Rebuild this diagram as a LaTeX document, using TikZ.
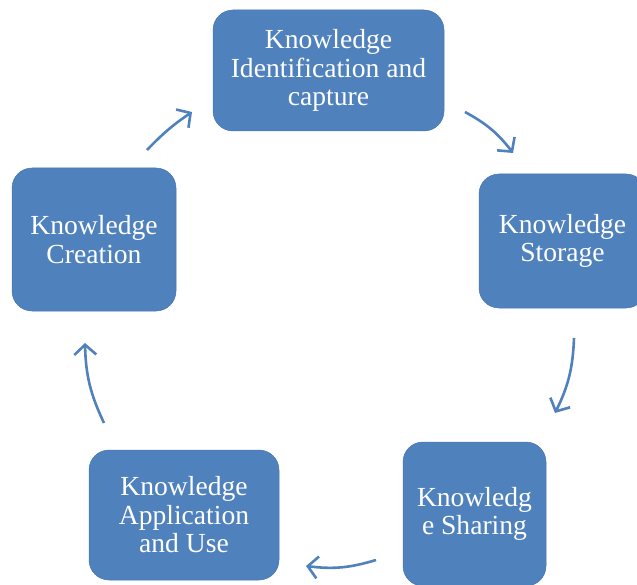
\documentclass[tikz,border=0pt]{standalone}
\usepackage{fontspec}
\setmainfont{Liberation Serif}
\usetikzlibrary{arrows.meta}
\definecolor{boxblue}{HTML}{4F81BD}
\begin{document}
\begin{tikzpicture}[x=1pt,y=-1pt,
  kbox/.style={draw=boxblue!92!black, line width=0.5pt, fill=boxblue, rounded corners=20pt, text=white,
    align=center, font=\fontsize{27.6}{28.5}\selectfont, inner sep=0pt},
  cyc/.style={draw=boxblue, line width=2.6pt, -{Straight Barb[length=10pt,width=22pt,line width=2.6pt]}, bend left=12}]
\useasboundingbox (0,0) rectangle (637,585);
\begin{scope}
\clip (0,0) rectangle (637,585);
\node[kbox, minimum width=231pt, minimum height=121pt] (ident) at (328.5,70.5) {Knowledge\\Identification and\\capture};
\node[kbox, minimum width=167pt, minimum height=134pt] (store) at (562.5,241) {Knowledge\\Storage};
\node[kbox, minimum width=143pt, minimum height=144pt] (share) at (474.5,514) {Knowledg\\e Sharing};
\node[kbox, minimum width=190pt, minimum height=130pt] (apply) at (184,515) {Knowledge\\Application\\and Use};
\node[kbox, minimum width=164pt, minimum height=143pt] (create) at (94,239.5) {Knowledge\\Creation};
\end{scope}
\coordinate (a1s) at (147,150); \coordinate (a1e) at (192,112);
\coordinate (a2s) at (465,112); \coordinate (a2e) at (513,153);
\coordinate (a3s) at (574,338); \coordinate (a3e) at (555,413);
\coordinate (a4s) at (376,560); \coordinate (a4e) at (306,566);
\coordinate (a5s) at (104,423); \coordinate (a5e) at (85,343);
\draw[cyc, bend left=6] (a1s) to (a1e);
\draw[cyc] (a2s) to (a2e);
\draw[cyc] (a3s) to (a3e);
\draw[cyc] (a4s) to (a4e);
\draw[cyc] (a5s) to (a5e);
\end{tikzpicture}
\end{document}
